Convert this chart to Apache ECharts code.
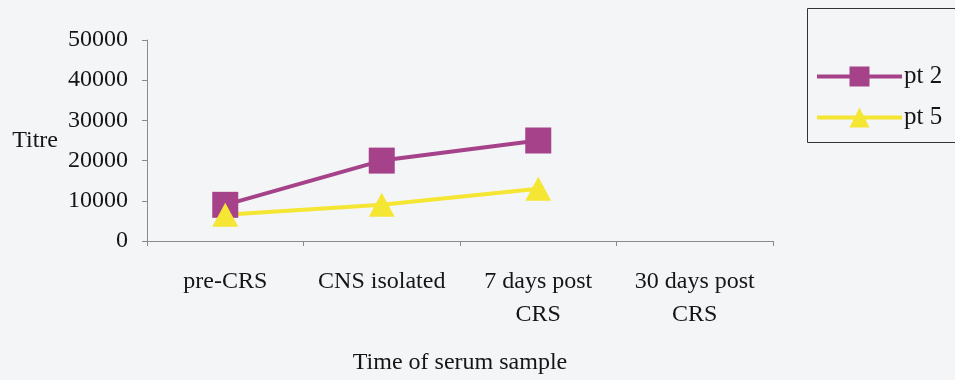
<!DOCTYPE html>
<html>
<head>
<meta charset="utf-8">
<script src="https://cdn.jsdelivr.net/npm/echarts@6/dist/echarts.min.js"></script>
<style>
  html, body { margin: 0; padding: 0; background: #f4f5f7; }
  #chart { width: 955px; height: 380px; }
</style>
</head>
<body>
<div id="chart"></div>
<script>
// Serum titre per sampling time point
const categories = ['pre-CRS', 'CNS isolated', '7 days post\nCRS', '30 days post\nCRS'];
const pt2 = [9000, 20000, 25000, null];
const pt5 = [6500, 9000, 13000, null];
const yTicks = { min: 0, max: 50000, interval: 10000 };

const serif = '"Liberation Serif", "Times New Roman", serif';
const ink = '#151515';
const fs = 24;
const purple = '#a5428a';
const yellow = '#f4e632';

const chart = echarts.init(document.getElementById('chart'));
chart.setOption({
  backgroundColor: '#f4f5f7',
  animation: false,
  textStyle: { fontFamily: serif, color: ink },
  grid: { left: 147, right: 182, top: 40, bottom: 138 },
  // legend frame runs off the right edge of the canvas
  graphic: [{
    type: 'rect',
    silent: true,
    shape: { x: 807.5, y: 8.5, width: 220, height: 134 },
    style: { fill: 'transparent', stroke: '#333', lineWidth: 1 }
  }],
  legend: {
    left: 815, top: 64,
    orient: 'vertical',
    padding: 0,
    itemGap: 16,
    itemWidth: 85,
    itemHeight: 25,
    lineStyle: { width: 4 },
    textStyle: { fontFamily: serif, fontSize: 25, color: ink, padding: [0, 0, 0, -3] },
    data: ['pt 2', 'pt 5']
  },
  xAxis: {
    type: 'category',
    data: categories,
    boundaryGap: true,
    name: 'Time of serum sample',
    nameLocation: 'middle',
    nameGap: 110,
    nameTextStyle: { fontFamily: serif, fontSize: fs, color: ink },
    axisLine: { lineStyle: { color: '#8a8a8a', width: 1 } },
    axisTick: { show: true, length: 5, alignWithLabel: false, lineStyle: { color: '#8a8a8a' } },
    axisLabel: { fontFamily: serif, fontSize: fs, color: ink, lineHeight: 33, margin: 24, interval: 0 }
  },
  yAxis: {
    type: 'value',
    min: yTicks.min, max: yTicks.max, interval: yTicks.interval,
    name: 'Titre',
    nameLocation: 'middle',
    nameRotate: 0,
    nameGap: 89,
    nameTextStyle: { fontFamily: serif, fontSize: fs, color: ink, align: 'right' },
    axisLine: { show: true, lineStyle: { color: '#8a8a8a', width: 1 } },
    axisTick: { show: true, length: 5, lineStyle: { color: '#8a8a8a' } },
    axisLabel: { fontFamily: serif, fontSize: fs, color: ink, margin: 19, formatter: v => String(v) },
    splitLine: { show: false }
  },
  series: [
    {
      name: 'pt 2', type: 'line', data: pt2,
      symbol: 'rect', symbolSize: 26,
      color: purple,
      lineStyle: { width: 4, color: purple },
      itemStyle: { color: purple }
    },
    {
      name: 'pt 5', type: 'line', data: pt5,
      symbol: 'triangle', symbolSize: [26, 24],
      color: yellow,
      lineStyle: { width: 4, color: yellow },
      itemStyle: { color: yellow }
    }
  ]
});
</script>
</body>
</html>
